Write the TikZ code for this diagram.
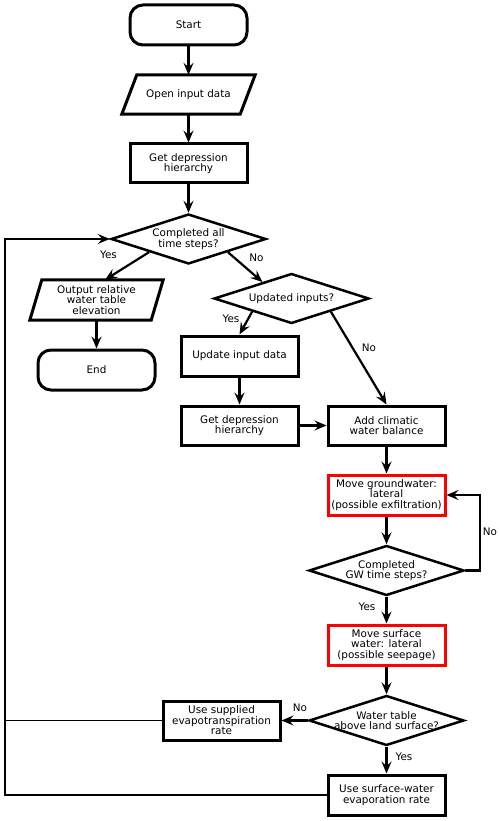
\documentclass[tikz,border=0pt]{standalone}
\usepackage{fontspec}
\setmainfont{DejaVu Sans}
\usetikzlibrary{shapes.geometric,arrows.meta,calc}
\begin{document}
\begin{tikzpicture}[x=1pt,y=-1pt,
 every node/.style={font=\fontsize{10.4}{10.6}\selectfont, align=center},
 box/.style={draw, line width=3pt, minimum width=117pt, minimum height=39pt, inner sep=0pt},
 redbox/.style={box, draw=red},
 term/.style={box, rounded corners=13pt, minimum height=40pt},
 ioshape/.style={minimum width=118pt, minimum height=39pt, inner sep=0pt},
 ioline/.style={line width=3pt, line join=miter},
 dec/.style={diamond, draw, line width=2.5pt, minimum width=155pt, minimum height=50pt, inner sep=0pt},
 tip/.style={-{Stealth[length=12pt,width=10pt,inset=4.5pt]}},
 conn/.style={line width=2.2pt, tip},
 thinline/.style={line width=1.5pt},
 thinconn/.style={line width=1.5pt, tip},
 lab/.style={font=\fontsize{10.4}{10.6}\selectfont, inner sep=0pt}]
\useasboundingbox (0,0) rectangle (500,821);

\node[term] (start) at (188.5,25) {Start};
\node[ioshape] (open) at (188.5,94.5) {Open input data};
\draw[ioline] ($(open.north west)+(7.5,0)$) -- ($(open.north east)+(7.5,0)$) -- ($(open.south east)+(-7.5,0)$) -- ($(open.south west)+(-7.5,0)$) -- cycle;
\node[box] (dep1) at (188.5,163.5) {Get depression\\ hierarchy};
\node[dec, label={center:Completed all\\time steps?}] (d1) at (188.5,239) {};
\node[ioshape, minimum width=121pt, minimum height=40pt] (out) at (96.5,300) {Output relative\\water table\\elevation};
\draw[ioline] ($(out.north west)+(6,0)$) -- ($(out.north east)+(6,0)$) -- ($(out.south east)+(-6,0)$) -- ($(out.south west)+(-6,0)$) -- cycle;
\node[term] (endn) at (96.5,370) {End};
\node[dec, label={center:Updated inputs?}] (d2) at (291.5,298.5) {};
\node[box, minimum height=40pt] (upd) at (239.5,356) {Update input data};
\node[box] (dep2) at (239.5,425.5) {Get depression\\hierarchy};
\node[box] (add) at (386.5,425.5) {Add climatic\\water balance};
\node[redbox, minimum height=40pt] (gw) at (386.5,495) {Move groundwater:\\lateral\\(possible exfiltration)};
\node[dec, label={center:Completed\\GW time steps?}] (d3) at (386.5,570.5) {};
\node[redbox, minimum height=40pt] (sw) at (386.5,645) {Move surface\\water: lateral\\(possible seepage)};
\node[dec, label={center:Water table\\above land surface?}] (d4) at (386.5,720.5) {};
\node[box] (evt) at (221.5,720.5) {Use supplied\\evapotranspiration\\rate};
\node[box, minimum height=40pt] (evap) at (386.5,795) {Use surface-water\\evaporation rate};
\coordinate (lx) at (5,795);

\draw[conn] (start) -- (open);
\draw[conn] (open) -- (dep1);
\draw[conn] (dep1) -- (d1);
\draw[conn] (d1.south west) -- ([xshift=8.5pt]out.north);
\draw[conn] (d1.south east) -- ($(d2.west)!0.63!(d2.north)$);
\draw[conn] (out) -- (endn);
\draw[conn] (d2.south west) -- (upd.north);
\draw[conn] (d2.south east) -- (add.north);
\draw[conn] (upd) -- (dep2);
\draw[conn] (dep2) -- (add);
\draw[conn] (add) -- (gw);
\draw[conn] (gw) -- (d3);
\draw[conn] (d3.east) -- ++(14.5,0) |- (gw.east);
\draw[conn] (d3) -- (sw);
\draw[conn] (sw) -- (d4);
\draw[conn] (d4.west) -- (evt.east);
\draw[conn] (d4) -- (evap);
\draw[thinline] (evt.west) -- (evt.west -| lx);
\draw[thinconn] (evap.west) -- (lx) |- (d1.west);

\node[lab] at (108.5,255) {Yes};
\node[lab] at (256.5,258) {No};
\node[lab] at (231,319) {Yes};
\node[lab] at (369,348) {No};
\node[lab] at (490,532) {No};
\node[lab] at (367,607) {Yes};
\node[lab] at (300,708) {No};
\node[lab] at (404,757) {Yes};
\end{tikzpicture}
\end{document}
